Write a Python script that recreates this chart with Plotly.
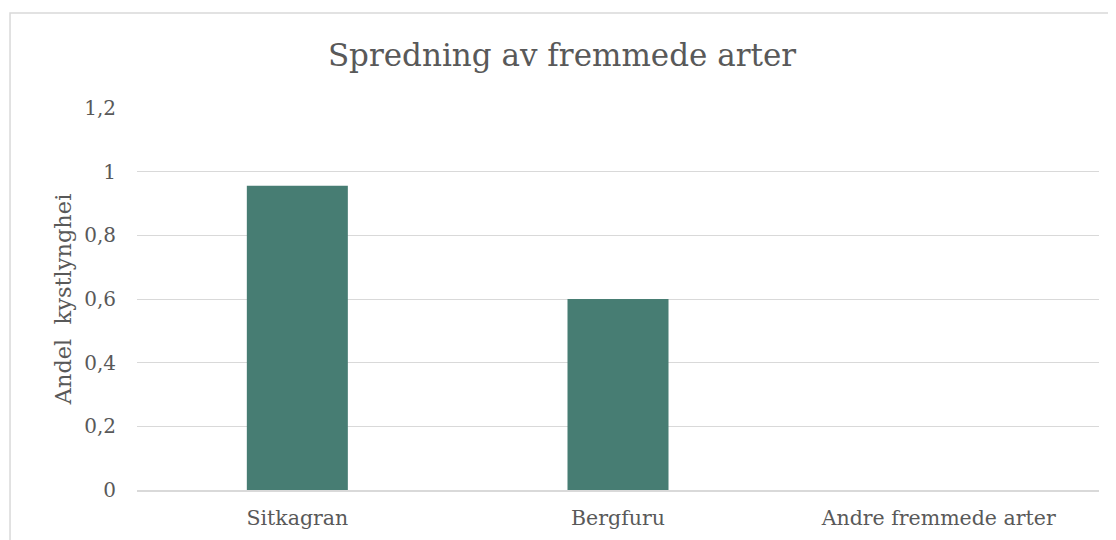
import plotly.graph_objects as go

categories = ["Sitkagran", "Bergfuru", "Andre fremmede arter"]
values = [0.956, 0.6, 0]
tick_vals = [0, 0.2, 0.4, 0.6, 0.8, 1.0, 1.2]
tick_text = ["0", "0,2", "0,4", "0,6", "0,8", "1", "1,2"]

FONT = "DejaVu Serif"
TXT = "#595959"

fig = go.Figure(go.Bar(x=categories, y=values, marker=dict(color="#477D73", line=dict(width=0)),
                       width=0.315))

# page body has an 8px margin, so figure is sized/offset to compensate
fig.update_layout(
    width=1108, height=532,
    margin=dict(l=129, r=17, t=100, b=50, autoexpand=False),
    paper_bgcolor="white", plot_bgcolor="white",
    font=dict(family=FONT, color=TXT),
    title=dict(text="Spredning av fremmede arter", x=0.5, xanchor="center", y=0.912, yanchor="middle",
               font=dict(family=FONT, size=31, color=TXT)),
    showlegend=False,
    shapes=[dict(type="rect", xref="paper", yref="paper", x0=-0.132, x1=1.2, y0=-0.5, y1=1.2487,
                 line=dict(color="#D9D9D9", width=1.5), fillcolor="rgba(0,0,0,0)", layer="below")],
)
fig.update_xaxes(showgrid=False, showline=True, linecolor="#D9D9D9", linewidth=1.5,
                 tickfont=dict(family=FONT, size=20.5, color=TXT), ticks="", ticklabelstandoff=9)
fig.update_yaxes(range=[0, 1.2], tickvals=tick_vals, ticktext=tick_text, showgrid=True,
                 gridcolor="#D9D9D9", gridwidth=1.2, zeroline=False, showline=False,
                 tickfont=dict(family=FONT, size=20, color=TXT), ticklabelstandoff=20,
                 title=dict(text="Andel  kystlynghei", font=dict(family=FONT, size=22.5, color=TXT), standoff=6))

fig.write_html("out.html")
